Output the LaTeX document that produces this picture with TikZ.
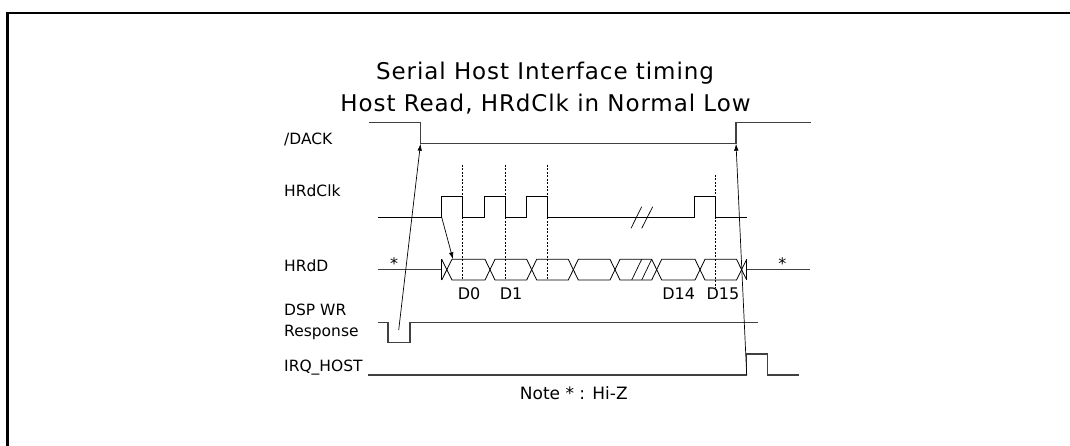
\documentclass[tikz,border=0pt]{standalone}
\usepackage{fontspec}
\setmainfont{DejaVu Sans}
\newfontfamily\titlefont[LetterSpace=4]{DejaVu Sans}
\usetikzlibrary{arrows.meta}
\begin{document}
\begin{tikzpicture}[x=1pt,y=-1pt,
  frame/.style={line width=2.2pt, black},
  sig/.style={line width=1.1pt, black!75},
  clk/.style={line width=0.9pt, black},
  bus/.style={line width=0.8pt, black},
  guide/.style={line width=0.6pt, black, dash pattern=on 2pt off 1.5pt},
  slash/.style={line width=0.7pt, black},
  tarrow/.style={line width=0.7pt, black, -{Latex[length=7pt,width=4.5pt]}},
  lbl/.style={anchor=base west, inner sep=0pt, font=\fontsize{15.5}{18}\selectfont},
  dlbl/.style={anchor=base, inner sep=0pt, font=\fontsize{16}{18}\selectfont},
  ttl/.style={anchor=base, inner sep=0pt, font=\titlefont\fontsize{23}{26}\selectfont}
]
\useasboundingbox (0,0) rectangle (1070,446);
% frame (open at right and bottom)
\draw[frame] (7.5,447) -- (7.5,13.3) -- (1071,13.3);

% title
\node[ttl] (title1) at (545,80) {Serial Host Interface timing};
\node[ttl] (title2) at (545.5,112) {Host Read, HRdClk in Normal Low};

% labels
\node[lbl] (ldack) at (284,145) {/DACK};
\node[lbl] (lclk) at (284,196.7) {HRdClk};
\node[lbl] (lhrdd) at (284,271.7) {HRdD};
\node[lbl] (ldsp) at (284,315) {DSP WR};
\node[lbl] (lresp) at (284,336) {Response};
\node[lbl] (lirq) at (284,371.7) {IRQ\_HOST};

% key coordinates
\coordinate (dackFall) at (420.5,143.7);
\coordinate (dackRise) at (736,143.7);
\coordinate (clkRise) at (441.7,217.3);
\coordinate (busStart) at (453,259.3);
\coordinate (dspPulse) at (398.7,330);
\coordinate (irqRise) at (746.7,375);

% /DACK
\draw[sig] (368.5,122.5) -- (420.5,122.5) -- (dackFall) -- (dackRise) -- (736,122.5) -- (810.5,122.5);

% HRdClk
\draw[clk] (378.3,217.3) -- (clkRise) -- (441.7,196.7) -- (462.3,196.7) -- (462.3,217.3)
  -- (484,217.3) -- (484,196.7) -- (505,196.7) -- (505,217.3)
  -- (526,217.3) -- (526,196.7) -- (547.3,196.7) -- (547.3,217.3)
  -- (694.3,217.3) -- (694.3,196.7) -- (715.3,196.7) -- (715.3,217.3) -- (747.3,217.3);
\draw[slash] (631,228.3) -- (641.7,206.7);
\draw[slash] (641.7,228.3) -- (652.7,206.7);

% dashed guides
\foreach \gx in {462.3,505,547.3}
  \draw[guide] (\gx,165) -- (\gx,280);
\draw[guide] (715.3,175) -- (715.3,288);

% HRdD
\draw[sig] (378.3,269.3) -- (441.7,269.3);
\draw[sig] (746.7,269.3) -- (810,269.3);
\draw[bus] (441.7,259.3) -- (441.7,280);
\draw[bus] (746.7,259.3) -- (746.7,280);
\draw[bus] (441.7,280) -- (452,259.3) -- (485,259.3) -- (495,280) -- (526.7,280) -- (536.7,259.3)
  -- (568.3,259.3) -- (578.3,280) -- (610,280) -- (620,259.3) -- (651.7,259.3) -- (661.7,280)
  -- (695,280) -- (705,259.3) -- (736.5,259.3) -- (746.7,280);
\draw[bus] (441.7,259.3) -- (452,280) -- (485,280) -- (495,259.3) -- (526.7,259.3) -- (536.7,280)
  -- (568.3,280) -- (578.3,259.3) -- (610,259.3) -- (620,280) -- (651.7,280) -- (661.7,259.3)
  -- (695,259.3) -- (705,280) -- (736.5,280) -- (746.7,259.3);
\draw[slash] (631.7,280) -- (641.7,259.3);
\draw[slash] (641.7,280) -- (651.7,259.3);
\node[dlbl] (star1) at (394,269.3) {*};
\node[dlbl] (star2) at (782.3,269.3) {*};
\node[dlbl] (d0) at (469,299.3) {D0};
\node[dlbl] (d1) at (511,299.3) {D1};
\node[dlbl] (d14) at (678.7,299.3) {D14};
\node[dlbl] (d15) at (723,299.3) {D15};

% DSP WR Response
\draw[sig] (378,322.6) -- (388,322.6) -- (388,342.5) -- (410,342.5) -- (410,322.6) -- (757.7,322.6);

% IRQ_HOST
\draw[sig] (368.3,375) -- (irqRise) -- (746.7,354) -- (767.7,354) -- (767.7,375) -- (799.3,375);

% note
\node[anchor=base, inner sep=0pt, font=\fontsize{17}{20}\selectfont] (note) at (573.8,399.3) {Note * : Hi-Z};

% timing arrows
\draw[tarrow] (dspPulse) -- (dackFall);
\draw[tarrow] (irqRise) -- (dackRise);
\draw[tarrow] (clkRise) -- (busStart);
\end{tikzpicture}
\end{document}
